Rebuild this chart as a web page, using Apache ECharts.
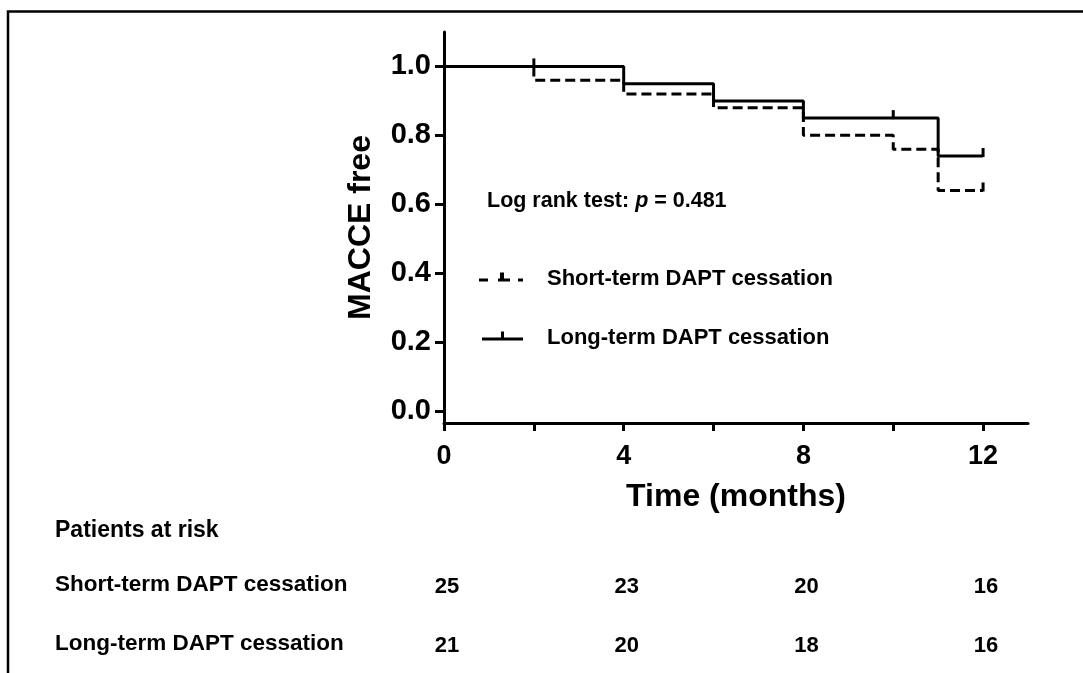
<!DOCTYPE html>
<html>
<head>
<meta charset="utf-8">
<script src="https://cdn.jsdelivr.net/npm/echarts@6/dist/echarts.min.js"></script>
<style>
html,body{margin:0;padding:0;background:#fff;}
#chart{width:1083px;height:673px;}
</style>
</head>
<body>
<div id="chart"></div>
<script>
// ---- data ----
var shortName = 'Short-term DAPT cessation';
var longName = 'Long-term DAPT cessation';
// Kaplan-Meier step points [month, survival]
var shortSteps = [[0, 1.0], [2, 0.96], [4, 0.92], [6, 0.88], [8, 0.80], [10, 0.76], [11, 0.64], [12, 0.64]];
var longSteps = [[0, 1.0], [4, 0.95], [6, 0.90], [8, 0.85], [11, 0.74], [12, 0.74]];
// censor marks [month, survival]
var shortCensor = [[12, 0.64]];
var longCensor = [[2, 1.0], [10, 0.85], [12, 0.74]];
// tick values
var yTicks = [0, 0.2, 0.4, 0.6, 0.8, 1.0];
var xTicks = [0, 2, 4, 6, 8, 10, 12];
var xLabels = [0, 4, 8, 12];
// patients at risk
var riskTimes = [0, 4, 8, 12];
var riskShort = [25, 23, 20, 16];
var riskLong = [21, 20, 18, 16];
var riskRows = [shortName, longName];

var FONT = "'Liberation Sans', Arial, sans-serif";

var riskData = [];
riskTimes.forEach(function (t, i) {
  riskData.push([t, 0, riskShort[i]]);
  riskData.push([t, 1, riskLong[i]]);
});

function censorRender(params, api) {
  var p = api.coord([api.value(0), api.value(1)]);
  return {
    type: 'line',
    shape: { x1: p[0], y1: p[1] + 1, x2: p[0], y2: p[1] - 8 },
    style: { stroke: '#000', lineWidth: 3 }
  };
}

var chart = echarts.init(document.getElementById('chart'), null, { renderer: 'canvas' });
var option = {
  backgroundColor: '#fff',
  animation: false,
  title: {
    text: 'Patients at risk',
    left: 55, top: 519, padding: 0,
    textStyle: { fontFamily: FONT, fontWeight: 'bold', fontSize: 23, color: '#000', lineHeight: 23 }
  },
  legend: {
    orient: 'vertical',
    left: 479, top: 267, padding: 0,
    itemWidth: 44, itemHeight: 13, itemGap: 35,
    itemStyle: { color: '#000', borderWidth: 0 },
    textStyle: { fontFamily: FONT, fontWeight: 'bold', fontSize: 22, color: '#000', lineHeight: 24, padding: [0, 0, 0, 19] },
    data: [
      { name: shortName, icon: 'path://M0,6H9V9H0Z M19,6H31V9H19Z M21,0H25V6H21Z M39,6H44V9H39Z M0,12.99H0.01V13H0Z' },
      { name: longName, icon: 'path://M3,6H44V9H3Z M22,0H25V6H22Z M0,12.99H0.01V13H0Z' }
    ],
    selectedMode: false
  },
  graphic: [
    {
      type: 'polyline',
      shape: { points: [[8, 673], [8, 11.5], [1083, 11.5]] },
      style: { stroke: '#000', lineWidth: 2.5, fill: null },
      silent: true
    },
    {
      type: 'text',
      style: {
        x: 487, y: 201, verticalAlign: 'middle',
        text: '{a|Log rank test: }{i|p}{a| = 0.481}',
        rich: {
          a: { fontFamily: FONT, fontWeight: 'bold', fontSize: 21.5, fill: '#000' },
          i: { fontFamily: FONT, fontWeight: 'bold', fontStyle: 'italic', fontSize: 21.5, fill: '#000' }
        }
      }
    }
  ],
  grid: [
    { left: 444, right: 55, top: 32, bottom: 250 },
    { left: 444, right: 55, top: 555, height: 128 }
  ],
  xAxis: [
    {
      gridIndex: 0, type: 'value', min: 0, max: 13,
      name: 'Time (months)', nameLocation: 'middle', nameGap: 58,
      nameTextStyle: { fontFamily: FONT, fontWeight: 'bold', fontSize: 32, color: '#000' },
      axisLine: { show: true, onZero: false, lineStyle: { color: '#000', width: 3 } },
      axisTick: { show: true, customValues: xTicks, length: 8, lineStyle: { color: '#000', width: 3 } },
      axisLabel: { customValues: xLabels, margin: 20, fontFamily: FONT, fontWeight: 'bold', fontSize: 27, color: '#000' },
      splitLine: { show: false }
    },
    {
      gridIndex: 1, type: 'value', min: 0, max: 13, show: false
    }
  ],
  yAxis: [
    {
      gridIndex: 0, type: 'value', min: -0.035, max: 1.1,
      name: 'MACCE free', nameLocation: 'middle', nameGap: 67, nameRotate: 90,
      nameTextStyle: { fontFamily: FONT, fontWeight: 'bold', fontSize: 32, color: '#000' },
      axisLine: { show: true, onZero: false, lineStyle: { color: '#000', width: 3 } },
      axisTick: { show: true, customValues: yTicks, length: 9, lineStyle: { color: '#000', width: 3 } },
      axisLabel: {
        customValues: yTicks, margin: 13,
        fontFamily: FONT, fontWeight: 'bold', fontSize: 29, color: '#000',
        formatter: function (v) { return Number(v).toFixed(1); }
      },
      splitLine: { show: false }
    },
    {
      gridIndex: 1, type: 'category', inverse: true, data: riskRows,
      axisLine: { show: false }, axisTick: { show: false }, splitLine: { show: false },
      axisLabel: { align: 'left', margin: 389, fontFamily: FONT, fontWeight: 'bold', fontSize: 22.5, color: '#000' }
    }
  ],
  series: [
    {
      name: shortName, type: 'line', step: 'end', xAxisIndex: 0, yAxisIndex: 0,
      data: shortSteps, symbol: 'none', color: '#000',
      lineStyle: { color: '#000', width: 3, type: [10, 5] }
    },
    {
      name: longName, type: 'line', step: 'end', xAxisIndex: 0, yAxisIndex: 0,
      data: longSteps, symbol: 'none', color: '#000',
      lineStyle: { color: '#000', width: 3, type: 'solid' }
    },
    {
      name: 'shortCensor', type: 'custom', xAxisIndex: 0, yAxisIndex: 0,
      data: shortCensor, renderItem: censorRender
    },
    {
      name: 'longCensor', type: 'custom', xAxisIndex: 0, yAxisIndex: 0,
      data: longCensor, renderItem: censorRender
    },
    {
      name: 'risk', type: 'scatter', xAxisIndex: 1, yAxisIndex: 1,
      data: riskData, symbolSize: 1,
      itemStyle: { color: 'rgba(0,0,0,0)' },
      label: {
        show: true, position: 'inside', color: '#000', offset: [3, 2],
        textBorderWidth: 0, textBorderColor: 'transparent', opacity: 1,
        fontFamily: FONT, fontWeight: 'bold', fontSize: 22,
        formatter: function (p) { return String(p.value[2]); }
      }
    }
  ]
};
chart.setOption(option);
</script>
</body>
</html>
